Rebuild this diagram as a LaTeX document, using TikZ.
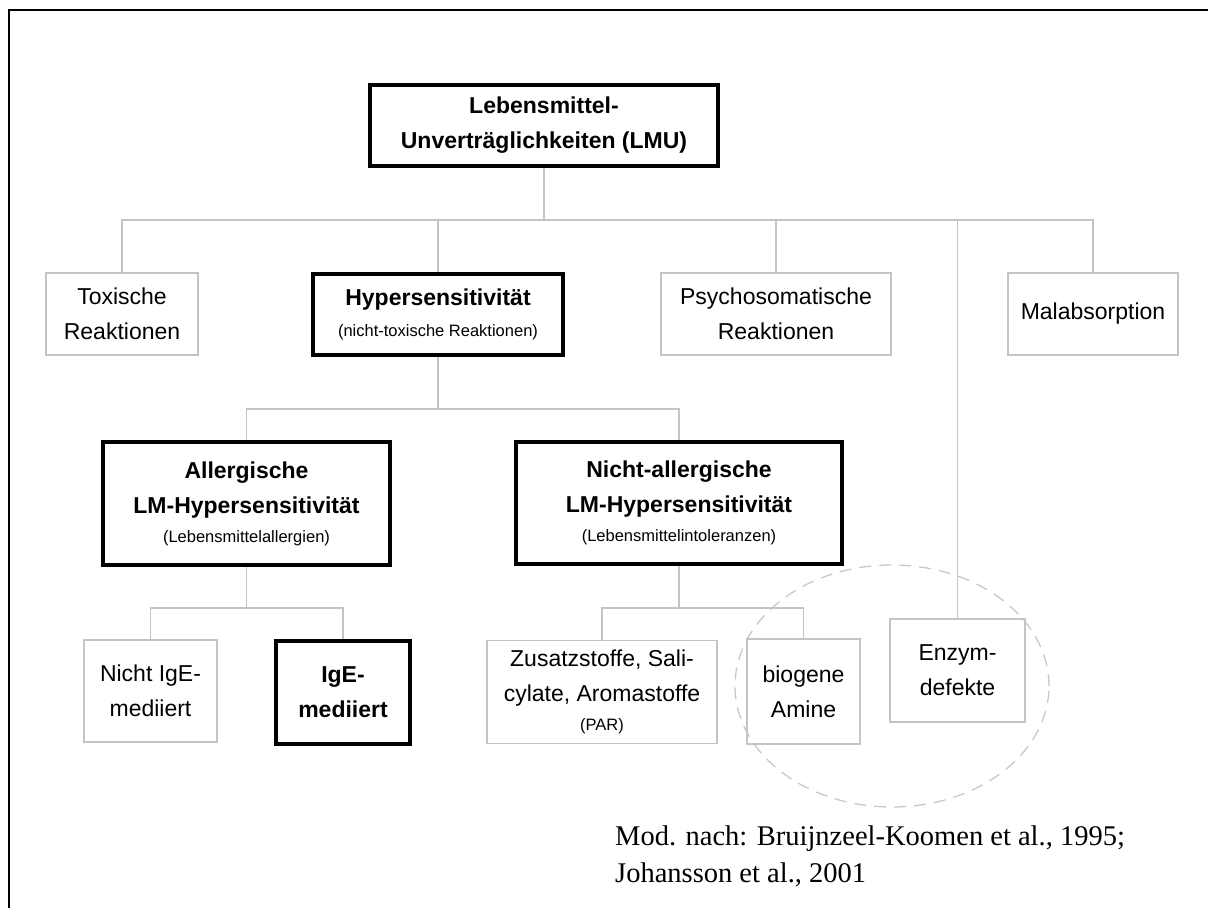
\documentclass[tikz,border=0pt]{standalone}
\usepackage{fontspec}
\setmainfont{Liberation Sans}
\newfontfamily\capfont{Liberation Serif}
\definecolor{linegray}{HTML}{C4C4C4}
\definecolor{ellgray}{HTML}{C8C8C8}
\newcommand{\smalltxt}{\mdseries\fontsize{16.5}{20}\selectfont}
\begin{document}
\begin{tikzpicture}[x=1pt,y=-1pt,
  conn/.style={draw=linegray, line width=1.3pt},
  thinbox/.style={draw=linegray, line width=1.5pt, rectangle, inner sep=0pt, align=center, font=\fontsize{23}{35}\selectfont},
  thickbox/.style={draw=black, line width=4pt, rectangle, inner sep=0pt, align=center, font=\fontsize{23}{35}\selectfont\bfseries},
  sz/.style 2 args={minimum width=#1pt, minimum height=#2pt}]
\useasboundingbox (0,0) rectangle (1208,908);
% frame
\draw[line width=2pt] (8.5,908) -- (8.5,10) -- (1208,10);
% ellipse
\draw[draw=ellgray, line width=1.3pt, dash pattern=on 12pt off 8pt] (892,686) ellipse [x radius=157pt, y radius=121pt];
% nodes
\node[thickbox, sz={348}{81}] (lmu) at (544,125.5) {Lebensmittel-\\Unverträglichkeiten (LMU)};
\node[thinbox, sz={152}{82}] (tox) at (122,314) {Toxische\\Reaktionen};
\node[thickbox, sz={250}{81}] (hyp) at (438,314.5) {Hypersensitivität\\[-4pt]{\smalltxt (nicht-toxische Reaktionen)}};
\node[thinbox, sz={230}{82}] (psy) at (776,314) {Psychosomatische\\Reaktionen};
\node[thinbox, sz={170}{82}] (mal) at (1093,314) {Malabsorption};
\node[thickbox, sz={287}{123}] (all) at (246.5,503.5) {Allergische\\LM-Hypersensitivität\\[-6pt]{\smalltxt (Lebensmittelallergien)}};
\node[thickbox, sz={326}{122}] (nal) at (679,503) {Nicht-allergische\\LM-Hypersensitivität\\[-6pt]{\smalltxt (Lebensmittelintoleranzen)}};
\node[thinbox, sz={133}{102}] (nige) at (150.5,691) {Nicht IgE-\\mediiert};
\node[thickbox, line width=3.5pt, sz={134}{103}] (ige) at (343,692.5) {IgE-\\mediiert};
\node[thinbox, sz={230}{103}] (zus) at (602,692) {Zusatzstoffe, Sali-\\cylate, Aromastoffe\\[-6pt]{\smalltxt (PAR)}};
\node[thinbox, sz={113}{105}] (bio) at (803.5,691.5) {biogene\\Amine};
\node[thinbox, sz={135}{103}] (enz) at (957.5,670.5) {Enzym-\\defekte};
% connectors
\coordinate (bus1) at (544,220);
\draw[conn] (lmu.south) -- (bus1);
\draw[conn] (tox.north) -- (tox.north |- bus1) -- (mal.north |- bus1) -- (mal.north);
\draw[conn] (hyp.north) -- (hyp.north |- bus1);
\draw[conn] (psy.north) -- (psy.north |- bus1);
\draw[conn] (enz.north) -- (enz.north |- bus1);
\coordinate (bus2) at (438,409);
\draw[conn] (hyp.south) -- (bus2);
\draw[conn] (all.north) -- (all.north |- bus2) -- (nal.north |- bus2) -- (nal.north);
\coordinate (bus3) at (246.5,608);
\draw[conn] (all.south) -- (bus3);
\draw[conn] (nige.north) -- (nige.north |- bus3) -- (ige.north |- bus3) -- (ige.north);
\coordinate (bus4) at (679,608);
\draw[conn] (nal.south) -- (bus4);
\draw[conn] (zus.north) -- (zus.north |- bus4) -- (bio.north |- bus4) -- (bio.north);
% caption
\node[font=\capfont\fontsize{28.5}{37}\selectfont, align=left, anchor=north west, inner sep=0pt] (cap) at (615,826) {Mod. nach: Bruijnzeel-Koomen et al., 1995;\\Johansson et al., 2001};
\end{tikzpicture}
\end{document}
